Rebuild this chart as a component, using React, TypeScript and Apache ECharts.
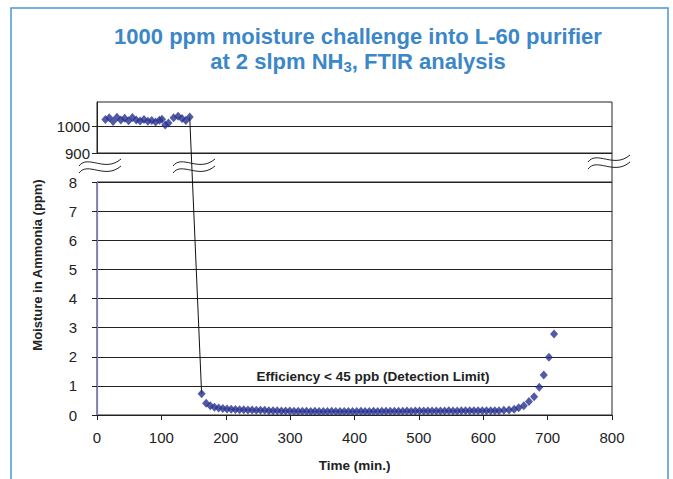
import { useEffect, useRef } from 'react';
import * as echarts from 'echarts';

// ---- data ----
const titleLine1 = '1000 ppm moisture challenge into L-60 purifier';
const titleLine2a = 'at 2 slpm NH';
const titleLine2sub = '3';
const titleLine2b = ', FTIR analysis';
const xAxisTitle = 'Time (min.)';
const yAxisTitle = 'Moisture in Ammonia (ppm)';
const annotation = 'Efficiency < 45 ppb (Detection Limit)';

// upper (broken) panel: challenge level, ppm
const topTime = [13, 19, 25, 31, 37, 43, 49, 55, 61, 67, 73, 79, 85, 91, 97, 101, 106, 111, 119, 126, 132, 138, 144];
const topMoisture = [1025, 1032, 1018, 1034, 1024, 1030, 1021, 1033, 1024, 1020, 1025, 1019, 1022, 1016, 1023, 1026, 1005, 1012, 1032, 1038, 1029, 1022, 1035];

// lower panel: purifier outlet, ppm
const bottomTime = [
  162.5, 169.5, 176, 182.5, 189, 195.5, 202, 208.5, 215, 221.5,
  228, 234.5, 241, 247.5, 254, 260.5, 267, 273.5, 280, 286.5,
  293, 299.5, 306, 312.5, 319, 325.5, 332, 338.5, 345, 351.5,
  358, 364.5, 371, 377.5, 384, 390.5, 397, 403.5, 410, 416.5,
  423, 429.5, 436, 442.5, 449, 455.5, 462, 468.5, 475, 481.5,
  488, 494.5, 501, 507.5, 514, 520.5, 527, 533.5, 540, 546.5,
  553, 559.5, 566, 572.5, 579, 585.5, 592, 598.5, 605, 611.5,
  618, 624.5, 632, 640, 648, 655, 663, 671, 679, 687,
  694, 702, 710,
];
const bottomMoisture = [
  0.73, 0.40, 0.32, 0.27, 0.24, 0.22, 0.21, 0.20, 0.19, 0.18,
  0.18, 0.17, 0.17, 0.16, 0.16, 0.16, 0.15, 0.15, 0.15, 0.14,
  0.14, 0.14, 0.13, 0.13, 0.13, 0.13, 0.12, 0.13, 0.12, 0.12,
  0.12, 0.13, 0.12, 0.12, 0.12, 0.12, 0.12, 0.12, 0.13, 0.12,
  0.12, 0.13, 0.12, 0.13, 0.13, 0.13, 0.13, 0.13, 0.13, 0.14,
  0.13, 0.14, 0.14, 0.14, 0.14, 0.14, 0.14, 0.14, 0.14, 0.15,
  0.14, 0.14, 0.15, 0.15, 0.15, 0.15, 0.15, 0.15, 0.15, 0.15,
  0.15, 0.15, 0.16, 0.17, 0.20, 0.25, 0.32, 0.46, 0.63, 0.95,
  1.37, 1.98, 2.78,
];

const topTicks = [900, 1000];

export default function App() {
  const ref = useRef<HTMLDivElement>(null);

  useEffect(() => {
    if (!ref.current) return;
    const chart = echarts.init(ref.current, null, { renderer: 'svg' });
    const FONT = "'Liberation Sans', Arial, Helvetica, sans-serif";
    const TITLE_COLOR = '#3b87c7';
    const MARK = '#27318f';
    const INK = '#222222';

    const topData = topTime.map((t, i) => [t, topMoisture[i]]);
    const bottomData = bottomTime.map((t, i) => [t, bottomMoisture[i]]);

    chart.setOption({
      animation: false,
      backgroundColor: '#ffffff',
      textStyle: { fontFamily: FONT },
      title: {
        text: titleLine1 + '\n' + titleLine2a + '{sub|' + titleLine2sub + '}' + titleLine2b,
        left: 353,
        textAlign: 'center',
        top: 19,
        textStyle: {
          fontFamily: FONT,
          fontSize: 22,
          fontWeight: 'bold',
          color: TITLE_COLOR,
          lineHeight: 25,
          rich: {
            sub: {
              fontFamily: FONT,
              fontSize: 15,
              fontWeight: 'bold',
              color: TITLE_COLOR,
              lineHeight: 14,
              verticalAlign: 'bottom',
            },
          },
        },
      },
      grid: [
        { left: 97, right: 61, top: 102, bottom: 326, show: true, borderColor: INK, borderWidth: 1, backgroundColor: 'transparent' },
        { left: 97, right: 61, top: 182, bottom: 64, show: true, borderColor: INK, borderWidth: 1, backgroundColor: 'transparent' },
      ],
      xAxis: [
        { gridIndex: 0, type: 'value', min: 0, max: 800, interval: 100, show: false },
        {
          gridIndex: 1, type: 'value', min: 0, max: 800, interval: 100,
          axisLine: { show: true, lineStyle: { color: INK, width: 1 } },
          axisTick: { show: true, inside: false, length: 5, lineStyle: { color: INK } },
          axisLabel: { fontSize: 15, color: INK, margin: 15, fontFamily: FONT },
          splitLine: { show: false },
          name: xAxisTitle,
          nameLocation: 'middle',
          nameGap: 43,
          nameTextStyle: { fontSize: 13.5, fontWeight: 'bold', color: INK, fontFamily: FONT },
        },
      ],
      yAxis: [
        {
          gridIndex: 0, type: 'value', min: 900, max: 1091, interval: 100,
          axisLine: { show: true, lineStyle: { color: INK, width: 1 } },
          axisTick: { show: true, length: 5, lineStyle: { color: INK }, customValues: topTicks },
          axisLabel: {
            fontSize: 15, color: INK, margin: 7, fontFamily: FONT,
            customValues: topTicks,
            formatter: (v: number) => (topTicks.indexOf(v) >= 0 ? String(v) : ''),
          },
          splitLine: { show: true, lineStyle: { color: INK, width: 1 } },
        },
        {
          gridIndex: 1, type: 'value', min: 0, max: 8, interval: 1,
          axisLine: { show: true, lineStyle: { color: '#7c7cc8', width: 1.2 } },
          axisTick: { show: true, length: 5, lineStyle: { color: INK } },
          axisLabel: { fontSize: 15, color: INK, margin: 20, fontFamily: FONT },
          splitLine: { show: true, lineStyle: { color: INK, width: 1 } },
        },
      ],
      series: [
        {
          type: 'scatter', xAxisIndex: 0, yAxisIndex: 0, data: topData,
          symbol: 'diamond', symbolSize: [8, 9], itemStyle: { color: MARK }, z: 5,
        },
        {
          type: 'scatter', xAxisIndex: 1, yAxisIndex: 1, data: bottomData,
          symbol: 'diamond', symbolSize: [8, 9], itemStyle: { color: MARK }, z: 5,
        },
      ],
    });

    const pA = chart.convertToPixel({ seriesIndex: 0 }, topData[topData.length - 1]) as number[];
    const pB = chart.convertToPixel({ seriesIndex: 1 }, bottomData[0]) as number[];
    const rTop = chart.convertToPixel({ seriesIndex: 0 }, [800, 900]) as number[];
    const rBot = chart.convertToPixel({ seriesIndex: 1 }, [800, 8]) as number[];

    const wave = (x0: number, y0: number) => [0, 7].map((dy) => ({
      type: 'bezierCurve',
      shape: {
        x1: x0, y1: y0 + dy + 7,
        cpx1: x0 + 9, cpy1: y0 + dy - 5,
        cpx2: x0 + 26, cpy2: y0 + dy + 14,
        x2: x0 + 42, y2: y0 + dy,
      },
      style: { stroke: INK, lineWidth: 1, fill: 'none' },
      z: 10,
    }));

    chart.setOption({
      graphic: [
        {
          type: 'rect', shape: { x: 11, y: 8, width: 657, height: 520 },
          style: { stroke: '#4b96d6', lineWidth: 1.5, fill: 'none' }, silent: true,
        },
        {
          type: 'line', shape: { x1: rTop[0], y1: rTop[1], x2: rBot[0], y2: rBot[1] },
          style: { stroke: INK, lineWidth: 1 },
        },
        {
          type: 'line', shape: { x1: pA[0], y1: pA[1], x2: pB[0], y2: pB[1] },
          style: { stroke: '#111', lineWidth: 1 }, z: 4,
        },
        ...wave(79, 159),
        ...wave(173, 159),
        ...wave(588, 155),
        {
          type: 'text', x: 37, y: 265, rotation: Math.PI / 2,
          style: {
            text: yAxisTitle, fontFamily: FONT, fontSize: 13, fontWeight: 'bold',
            fill: INK, align: 'center', verticalAlign: 'middle',
          },
        },
        {
          type: 'text', x: 373, y: 376,
          style: {
            text: annotation, fontFamily: FONT, fontSize: 13.5, fontWeight: 'bold',
            fill: INK, align: 'center', verticalAlign: 'middle',
          },
        },
      ],
    });

    return () => chart.dispose();
  }, []);

  return (
    <div
      ref={ref}
      style={{ position: 'fixed', left: 0, top: 0, width: 673, height: 479 }}
    />
  );
}
